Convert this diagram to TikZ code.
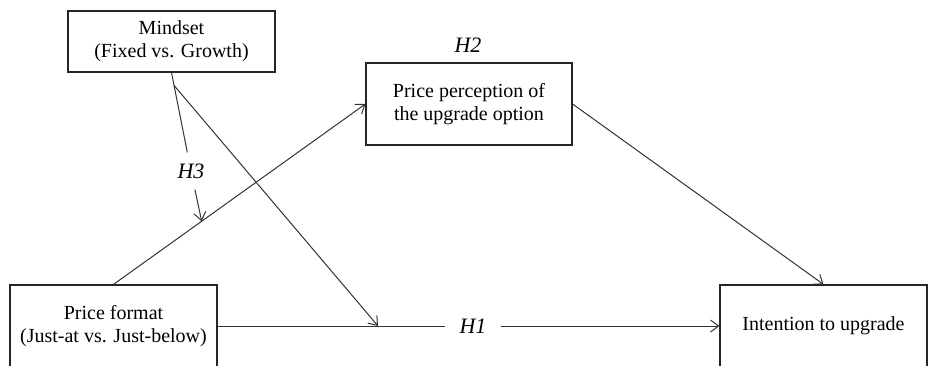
\documentclass[tikz,border=0pt]{standalone}
\usepackage{fontspec}
\setmainfont{Liberation Serif}
\usetikzlibrary{arrows.meta,calc}
\begin{document}
\begin{tikzpicture}[x=1pt,y=-1pt,
  box/.style={draw=black!85,line width=1.2pt,align=center,inner sep=0pt,
    font=\fontsize{20}{23}\selectfont},
  hyp/.style={font=\fontsize{22}{24}\selectfont\itshape,inner sep=0pt},
  link/.style={draw=black!80,line width=1pt},
  arr/.style={link,-{Straight Barb[length=8pt,width=12pt]}}]
\clip (0,0) rectangle (928,366);
\fill[white] (0,0) rectangle (928,366);
\node[box,minimum width=207pt,minimum height=61pt] (MS) at (171.5,41.5) {Mindset\\(Fixed vs. Growth)};
\node[box,minimum width=206pt,minimum height=82pt] (PP) at (469,104) {Price perception of\\the upgrade option};
\node[box,minimum width=207pt,minimum height=82pt] (PF) at (113.5,326) {Price format\\(Just-at vs. Just-below)};
\node[box,minimum width=207pt,minimum height=82pt] (IN) at (823.5,326) {Intention to upgrade};
\node[hyp] (H2) at (468,45) {H2};
\node[hyp,inner xsep=14pt,inner ysep=4pt] (H1) at (473,326) {H1};
\node[hyp,inner ysep=11pt,inner xsep=4pt] (H3) at (191,171) {H3};
\coordinate (m3) at ($(PF.north)!0.35!(PP.west)$);
\coordinate (m1) at (378,326);
\draw[arr] (PF.north) -- (PP.west);
\draw[arr] (PP.east) -- (IN.north);
\draw[link] (PF.east) -- (H1.west);
\draw[arr] (H1.east) -- (IN.west);
\draw[link] (MS.south) -- (H3);
\draw[arr] (H3) -- (m3);
\coordinate (br) at ($(MS.south)!0.13!(H3.center)$);
\draw[arr] (br) -- (m1);
\end{tikzpicture}
\end{document}
